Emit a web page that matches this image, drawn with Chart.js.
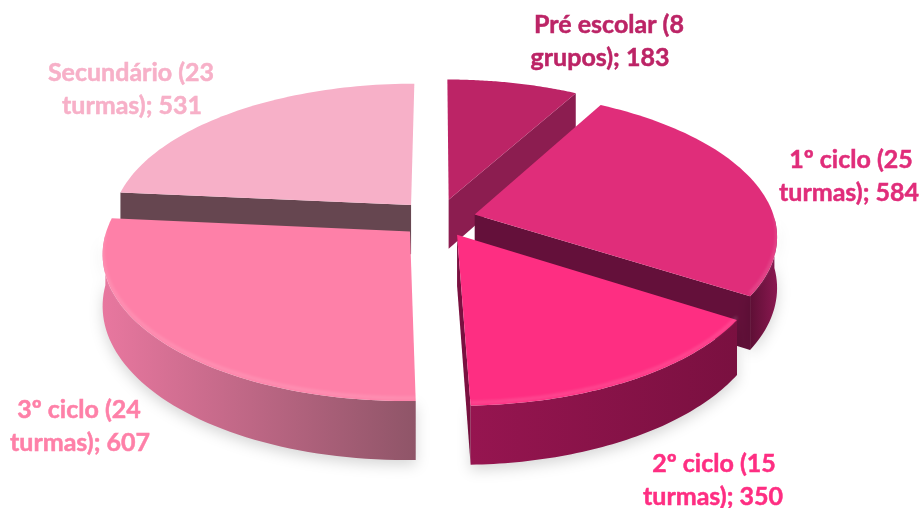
<!DOCTYPE html>
<html lang="pt">
<head>
  <meta charset="UTF-8">
  <title>Alunos por ciclo</title>
  <script src="https://cdn.jsdelivr.net/npm/chart.js"></script>
  <style>
    body { margin: 0; background: #fff; }
    canvas { display: block; }
  </style>
</head>
<body>
  <canvas id="pie" width="923" height="508"></canvas>
  <script>
    // data
    const firstLines = ['Pré escolar (8', '1º ciclo (25', '2º ciclo (15', '3º ciclo (24', 'Secundário (23'];
    const secondLines = ['grupos)', 'turmas)', 'turmas)', 'turmas)', 'turmas)'];
    const values = [183, 584, 350, 607, 531];

    // styles
    const topColors = ['#BC2466', '#E02D7A', '#FE2E82', '#FE80A8', '#F7B0C8'];
    const cutColors = ['#8C1D50', '#64103A', '#7A1040', '#8F5568', '#664650'];
    const wallLeft = ['#8C1D50', '#5E0F35', '#961550', '#E8779F', '#B07088'];
    const wallRight = ['#8C1D50', '#8A1850', '#7A1040', '#8F5568', '#664650'];
    const labelX = [609, 851, 714, 79, 131];
    const labelX2 = [600, 849, 713, 80, 132];
    const labelY = [25, 160, 464, 410, 73];
    const offsets = [34, 30, 30, 30, 32];
    const drawOrder = [0, 1, 4, 3, 2];

    // tilted disc, a bit of perspective
    const cx = 438, cy = 219, rx = 300, ry = 142, persp = 0.14, depth = 50;

    function project(X, Y, z) {
      const p = 1 / (1 - persp * Y);
      return [cx + X * rx * p, cy + Y * ry * p + z * depth * p];
    }

    function trace(ctx, pts) {
      ctx.beginPath();
      pts.forEach((q, i) => i ? ctx.lineTo(q[0], q[1]) : ctx.moveTo(q[0], q[1]));
      ctx.closePath();
    }

    function drawSlice(ctx, el, i) {
      const a0 = el.startAngle, a1 = el.endAngle, mid = (a0 + a1) / 2;
      const e = el.options.offset / el.outerRadius;
      const ox = Math.cos(mid) * e, oy = Math.sin(mid) * e;
      const rim = (a, z) => project(ox + Math.cos(a), oy + Math.sin(a), z);
      const apex = z => project(ox, oy, z);
      const steps = 60;

      // cut faces looking towards the viewer
      ctx.fillStyle = cutColors[i];
      if (-Math.cos(a0) > 0) {
        trace(ctx, [apex(0), rim(a0, 0), rim(a0, 1), apex(1)]);
        ctx.fill();
      }
      if (Math.cos(a1) > 0) {
        trace(ctx, [apex(0), rim(a1, 0), rim(a1, 1), apex(1)]);
        ctx.fill();
      }

      // outer wall, front half only
      const upper = [], lower = [];
      for (let s = 0; s <= steps; s++) {
        const a = a0 + (a1 - a0) * s / steps;
        if (Math.sin(a) < 0) continue;
        upper.push(rim(a, 0));
        lower.unshift(rim(a, 1));
      }
      if (upper.length > 1) {
        const xs = upper.map(q => q[0]);
        const g = ctx.createLinearGradient(Math.min(...xs), 0, Math.max(...xs), 0);
        g.addColorStop(0, wallLeft[i]);
        g.addColorStop(1, wallRight[i]);
        ctx.save();
        ctx.shadowColor = 'rgba(0,0,0,0.16)';
        ctx.shadowBlur = 14;
        ctx.shadowOffsetY = 5;
        ctx.fillStyle = g;
        trace(ctx, upper.concat(lower));
        ctx.fill();
        ctx.restore();
      }

      // top face
      const face = [apex(0)];
      for (let s = 0; s <= steps; s++) face.push(rim(a0 + (a1 - a0) * s / steps, 0));
      ctx.fillStyle = topColors[i];
      trace(ctx, face);
      ctx.fill();

      // soft bevel along the front edge
      if (upper.length > 1) {
        ctx.save();
        ctx.strokeStyle = 'rgba(255,255,255,0.14)';
        ctx.lineWidth = 3;
        ctx.filter = 'blur(1.5px)';
        ctx.beginPath();
        upper.forEach((q, k) => k ? ctx.lineTo(q[0], q[1] - 3) : ctx.moveTo(q[0], q[1] - 3));
        ctx.stroke();
        ctx.restore();
      }
    }

    const pie3d = {
      id: 'pie3d',
      beforeDatasetsDraw(chart) {
        const ctx = chart.ctx;
        const arcs = chart.getDatasetMeta(0).data;
        drawOrder.forEach(i => drawSlice(ctx, arcs[i], i));
        return false;
      },
      afterDraw(chart) {
        const ctx = chart.ctx;
        ctx.save();
        ctx.font = 'bold 25px Lato';
        ctx.textAlign = 'center';
        ctx.textBaseline = 'middle';
        ctx.lineWidth = 0.5;
        values.forEach((v, i) => {
          ctx.fillStyle = ctx.strokeStyle = topColors[i];
          const line2 = secondLines[i] + '; ' + v;
          ctx.fillText(firstLines[i], labelX[i], labelY[i]);
          ctx.strokeText(firstLines[i], labelX[i], labelY[i]);
          ctx.fillText(line2, labelX2[i], labelY[i] + 33);
          ctx.strokeText(line2, labelX2[i], labelY[i] + 33);
        });
        ctx.restore();
      }
    };

    new Chart(document.getElementById('pie'), {
      type: 'pie',
      data: {
        labels: firstLines.map((t, i) => t + ' ' + secondLines[i]),
        datasets: [{ data: values, backgroundColor: topColors, offset: offsets, borderWidth: 0 }]
      },
      options: {
        responsive: false,
        animation: false,
        plugins: { legend: { display: false }, tooltip: { enabled: false } }
      },
      plugins: [pie3d]
    });
  </script>
</body>
</html>
